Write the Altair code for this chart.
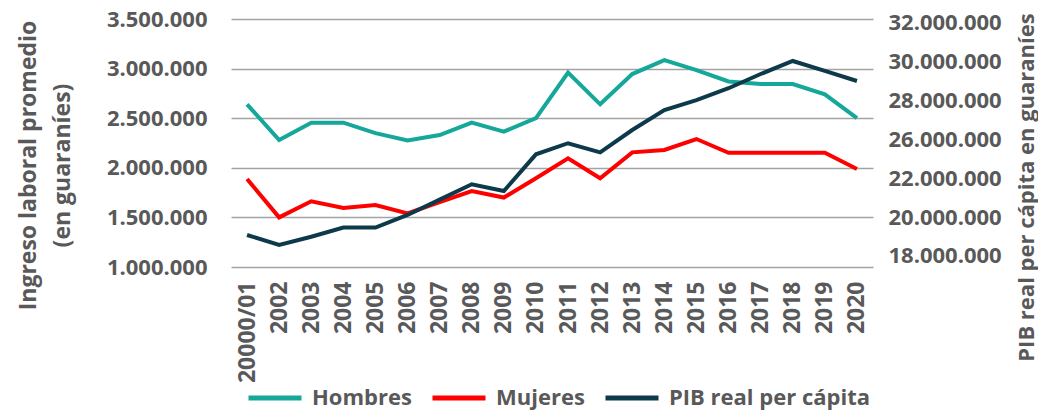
import altair as alt
import pandas as pd

years = ["20000/01", "2002", "2003", "2004", "2005", "2006", "2007", "2008", "2009", "2010",
         "2011", "2012", "2013", "2014", "2015", "2016", "2017", "2018", "2019", "2020"]
hombres = [2640000, 2280000, 2455000, 2455000, 2350000, 2275000, 2330000, 2455000, 2365000, 2500000,
           2960000, 2640000, 2945000, 3085000, 2985000, 2870000, 2845000, 2845000, 2740000, 2500000]
mujeres = [1887000, 1500000, 1662000, 1595000, 1625000, 1541000, 1655000, 1766000, 1700000, 1894000,
           2096000, 1894000, 2156000, 2180000, 2290000, 2152000, 2152000, 2152000, 2152000, 1988000]
pib = [21080000, 20570000, 20990000, 21460000, 21460000, 22110000, 22900000, 23690000, 23340000, 25230000,
       25800000, 25330000, 26480000, 27510000, 28020000, 28630000, 29360000, 30030000, 29520000, 29000000]

series_names = ["Hombres", "Mujeres", "PIB real per cápita"]
series_colors = ["#14a79a", "#ff0000", "#0d3a4b"]

left_ticks = [1000000, 1500000, 2000000, 2500000, 3000000, 3500000]
right_ticks = [20000000, 22000000, 24000000, 26000000, 28000000, 30000000, 32000000]
right_labels = ["18.000.000", "20.000.000", "22.000.000", "26.000.000", "28.000.000", "30.000.000", "32.000.000"]

left_title = ["Ingreso laboral promedio", "(en guaraníes)"]
right_title = "PIB real per cápita en guaraníes"

rows = []
for i, y in enumerate(years):
    rows.append({"year": y, "serie": "Hombres", "v": hombres[i]})
    rows.append({"year": y, "serie": "Mujeres", "v": mujeres[i]})
df_left = pd.DataFrame(rows)
df_right = pd.DataFrame({"year": years, "serie": "PIB real per cápita", "v": pib})

FONT = "Open Sans"
GRAY = "#595959"
W = "bold"

right_expr = " : ".join(
    [f"datum.value == {v} ? '{l}'" for v, l in zip(right_ticks, right_labels)]
) + " : ''"

x_enc = alt.X("year:N", sort=years, scale=alt.Scale(type="point", padding=0.5),
              axis=alt.Axis(title=None, labelAngle=270, ticks=False, domain=False,
                            labelPadding=14, labelFontSize=23, labelFont=FONT,
                            labelFontWeight=W, labelColor=GRAY, grid=False))

color_enc = alt.Color("serie:N", scale=alt.Scale(domain=series_names, range=series_colors),
                      legend=alt.Legend(title=None, orient="none", direction="horizontal",
                                        legendX=15, legendY=350, symbolType="stroke",
                                        symbolSize=2809, symbolStrokeWidth=5,
                                        labelFontSize=22, labelFont=FONT, labelFontWeight=W,
                                        labelColor=GRAY, labelOffset=8, columnPadding=10,
                                        labelLimit=400, padding=0))

left = alt.Chart(df_left).mark_line(strokeWidth=4).encode(
    x=x_enc,
    y=alt.Y("v:Q", scale=alt.Scale(domain=[1000000, 3500000], nice=False, zero=False),
            axis=alt.Axis(orient="left", values=left_ticks,
                          labelExpr="join(split(format(datum.value, ',.0f'), ','), '.')",
                          ticks=False, domain=False, labelPadding=24,
                          labelFontSize=22, labelFont=FONT, labelFontWeight=W, labelColor=GRAY,
                          grid=True, gridColor="#a3a3a3", gridWidth=1.3,
                          title=left_title, titleFont=FONT, titleFontSize=23, titleFontWeight=W,
                          titleColor=GRAY, titleAngle=270, titleX=-203, titleY=146,
                          titleAlign="center", titleBaseline="middle", titleLineHeight=34)),
    color=color_enc,
    detail="serie:N",
)

right = alt.Chart(df_right).mark_line(strokeWidth=4).encode(
    x=x_enc,
    y=alt.Y("v:Q", scale=alt.Scale(domain=[19434000, 32190000], nice=False, zero=False),
            axis=alt.Axis(orient="right", values=right_ticks, labelExpr=right_expr,
                          ticks=False, domain=False, labelPadding=15,
                          labelFontSize=22, labelFont=FONT, labelFontWeight=W, labelColor=GRAY,
                          grid=False,
                          title=right_title, titleFont=FONT, titleFontSize=22, titleFontWeight=W,
                          titleColor=GRAY, titleAngle=270, titleX=153, titleY=168,
                          titleAlign="center", titleBaseline="middle")),
    color=color_enc,
)

chart = alt.layer(left, right).resolve_scale(y="independent").properties(
    width=642, height=248,
    autosize=alt.AutoSizeParams(type="none"),
    padding={"left": 223, "top": 11, "right": 165, "bottom": 143},
    background="white",
).configure_view(stroke=None)

chart.save("out.html", embed_options={"renderer": "svg", "actions": False})
